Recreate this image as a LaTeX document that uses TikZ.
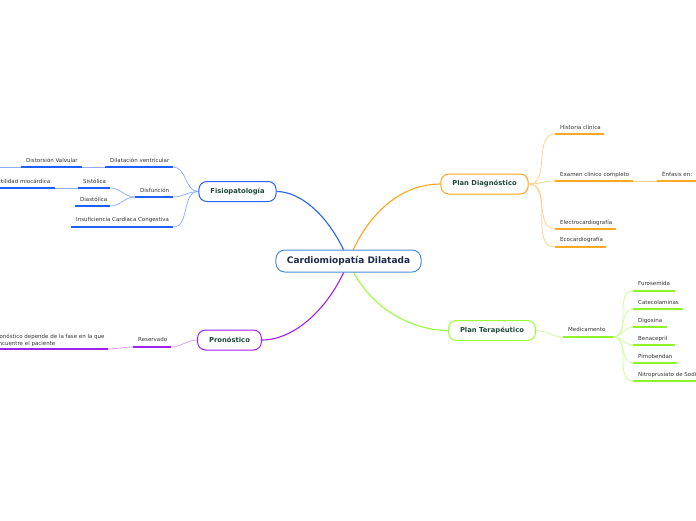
\documentclass[tikz,border=0pt]{standalone}
\usepackage{fontspec}
\setmainfont{DejaVu Sans}
\usetikzlibrary{backgrounds}
\definecolor{txtc}{HTML}{333333}
\definecolor{topictxt}{HTML}{1D4B3A}
\definecolor{centtxt}{HTML}{1C2B4B}
\definecolor{centborder}{HTML}{4A90D9}
\definecolor{bluM}{HTML}{2962FF}
\definecolor{bluU}{HTML}{1F5EFF}
\definecolor{bluL}{HTML}{8FAEFF}
\definecolor{oraM}{HTML}{FFA31A}
\definecolor{oraU}{HTML}{FFA726}
\definecolor{oraL}{HTML}{FFD08A}
\definecolor{purM}{HTML}{A21CF5}
\definecolor{purU}{HTML}{A020F0}
\definecolor{purL}{HTML}{D59BFF}
\definecolor{grnM}{HTML}{99FF33}
\definecolor{grnU}{HTML}{8FF22A}
\definecolor{grnL}{HTML}{C9FF99}
\tikzset{
  lbl/.style={inner sep=0pt, font=\fontsize{5.5}{6.2}\selectfont, text=txtc, anchor=base west},
  ul/.style={line width=1.5pt},
  topic/.style={draw, rounded corners=8pt, line width=1pt, fill=white, minimum height=20pt,
    inner xsep=11.5pt, inner ysep=0pt, font=\fontsize{6.8}{8}\selectfont\bfseries, text=topictxt},
  central/.style={draw=centborder, rounded corners=9pt, line width=1pt, fill=white, minimum height=22pt,
    inner xsep=11pt, inner ysep=0pt, font=\fontsize{9}{11}\selectfont\bfseries, text=centtxt},
  mainlink/.style={line width=1.1pt},
  sublink/.style={line width=0.75pt},
}
\begin{document}
\begin{tikzpicture}[x=1pt,y=-1pt]
\useasboundingbox (0,0) rectangle (696,520);
\clip (0,0) rectangle (696,520);

% main nodes
\node[central] (c) at (348.5,261) {Cardiomiopatía Dilatada};
\node[topic, draw=bluM] (fis) at (237.5,191.5) {Fisiopatología};
\node[topic, draw=purM] (pron) at (229.5,340) {Pronóstico};
\node[topic, draw=oraM] (pld) at (484.5,184) {Plan Diagnóstico};
\node[topic, draw=grnM] (plt) at (492,330.5) {Plan Terapéutico};

% ---------- Fisiopatologia children
\coordinate (dilL) at (105,167); \coordinate (dilR) at (173,167);
\coordinate (disvL) at (21,167); \coordinate (disvR) at (82,167);
\coordinate (offL) at (-5,167);
\coordinate (dfL) at (135,197); \coordinate (dfR) at (173,197);
\coordinate (sisL) at (78,188); \coordinate (sisR) at (110,188);
\coordinate (conL) at (-40,188); \coordinate (conR) at (55,188);
\coordinate (diaL) at (75,206); \coordinate (diaR) at (110,206);
\coordinate (insL) at (71,227); \coordinate (insR) at (173,227);

\node[lbl] (dil) at (110,162.3) {Dilatación ventricular};
\node[lbl] (disv) at (26,162.3) {Distorsión Valvular};
\node[lbl] (df) at (140,192.3) {Disfunción};
\node[lbl] (sis) at (83,183) {Sistólica};
\node[lbl, anchor=base east] (con) at (50.5,183) {Contractilidad miocárdica};
\node[lbl] (dia) at (80,201) {Diastólica};
\node[lbl] (ins) at (76,221.7) {Insuficiencia Cardiaca Congestiva};

% ---------- Pronostico children
\coordinate (resL) at (133,347); \coordinate (resR) at (171,347);
\coordinate (pdL) at (-40,349); \coordinate (pdR) at (108,349);
\node[lbl] (res) at (138,341.7) {Reservado};
\node[lbl, anchor=south west, align=left] (pd) at (-13,346.4) {El pronóstico depende de la fase en la que\\se encuentre el paciente};

% ---------- Plan Diagnostico children
\coordinate (hisL) at (555,134); \coordinate (hisR) at (604,134);
\coordinate (exaL) at (555,181); \coordinate (exaR) at (633,181);
\coordinate (enfL) at (657,181); \coordinate (enfR) at (700,181);
\coordinate (eleL) at (555,229); \coordinate (eleR) at (616,229);
\coordinate (ecoL) at (555,247); \coordinate (ecoR) at (606,247);
\node[lbl] (his) at (560,129) {Historia clínica};
\node[lbl] (exa) at (560,176) {Examen clínico completo};
\node[lbl] (enf) at (662,176) {Énfasis en:};
\node[lbl] (ele) at (560,224) {Electrocardiografía};
\node[lbl] (eco) at (560,241.7) {Ecocardiografía};

% ---------- Plan Terapeutico children
\coordinate (medL) at (563,337); \coordinate (medR) at (613,337);
\node[lbl] (med) at (568,331.5) {Medicamento};
\coordinate (furL) at (633,291); \coordinate (furR) at (675,291);
\coordinate (catL) at (633,309); \coordinate (catR) at (683,309);
\coordinate (digL) at (633,327); \coordinate (digR) at (667,327);
\coordinate (benL) at (633,345); \coordinate (benR) at (675,345);
\coordinate (pimL) at (633,363); \coordinate (pimR) at (677,363);
\coordinate (nitL) at (633,381); \coordinate (nitR) at (700,381);
\node[lbl] (fur) at (638,285.7) {Furosemida};
\node[lbl] (cat) at (638,304) {Catecolaminas};
\node[lbl] (dig) at (638,322.3) {Digoxina};
\node[lbl] (ben) at (638,340.3) {Benacepril};
\node[lbl] (pim) at (638,358.3) {Pimobendan};
\node[lbl] (nit) at (638,376.3) {Nitroprusiato de Sodio};

\begin{scope}[on background layer]
% main links
\draw[mainlink, bluM] (c.center) .. controls (330,215) and (300,191.5) .. (fis.east);
\draw[mainlink, oraM] (c.center) .. controls (366,215) and (400,184) .. (pld.west);
\draw[mainlink, purM] (c.center) .. controls (331,307) and (295,340) .. (pron.east);
\draw[mainlink, grnM] (c.center) .. controls (366,306) and (410,330.5) .. (plt.west);

% blue
\draw[sublink, bluL] (fis.west) to[out=180,in=0] (dilR);
\draw[sublink, bluL] (fis.west) to[out=180,in=0] (dfR);
\draw[sublink, bluL] (fis.west) to[out=180,in=0] (insR);
\draw[sublink, bluL] (dfL) to[out=180,in=0] (sisR);
\draw[sublink, bluL] (dfL) to[out=180,in=0] (diaR);
\draw[sublink, bluL] (dilL) -- (disvR);
\draw[sublink, bluL] (disvL) -- (offL);
\draw[sublink, bluL] (sisL) -- (conR);
\draw[ul, bluU] (dilL) -- (dilR);
\draw[ul, bluU] (disvL) -- (disvR);
\draw[ul, bluU] (dfL) -- (dfR);
\draw[ul, bluU] (sisL) -- (sisR);
\draw[ul, bluU] (conL) -- (conR);
\draw[ul, bluU] (diaL) -- (diaR);
\draw[ul, bluU] (insL) -- (insR);

% purple
\draw[sublink, purL] (pron.west) to[out=180,in=0] (resR);
\draw[sublink, purL] (resL) to[out=180,in=0] (pdR);
\draw[ul, purU] (resL) -- (resR);
\draw[ul, purU] (pdL) -- (pdR);

% orange
\foreach \k in {his,exa,ele,eco}{
  \draw[sublink, oraL] (pld.east) to[out=0,in=180] (\k L);
  \draw[ul, oraU] (\k L) -- (\k R);
}
\draw[sublink, oraL] (exaR) -- (enfL);
\draw[ul, oraU] (enfL) -- (enfR);

% green
\draw[sublink, grnL] (plt.east) to[out=0,in=180] (medL);
\draw[ul, grnU] (medL) -- (medR);
\foreach \k in {fur,cat,dig,ben,pim,nit}{
  \draw[sublink, grnL] (medR) to[out=0,in=180] (\k L);
  \draw[ul, grnU] (\k L) -- (\k R);
}
\end{scope}
\end{tikzpicture}
\end{document}
